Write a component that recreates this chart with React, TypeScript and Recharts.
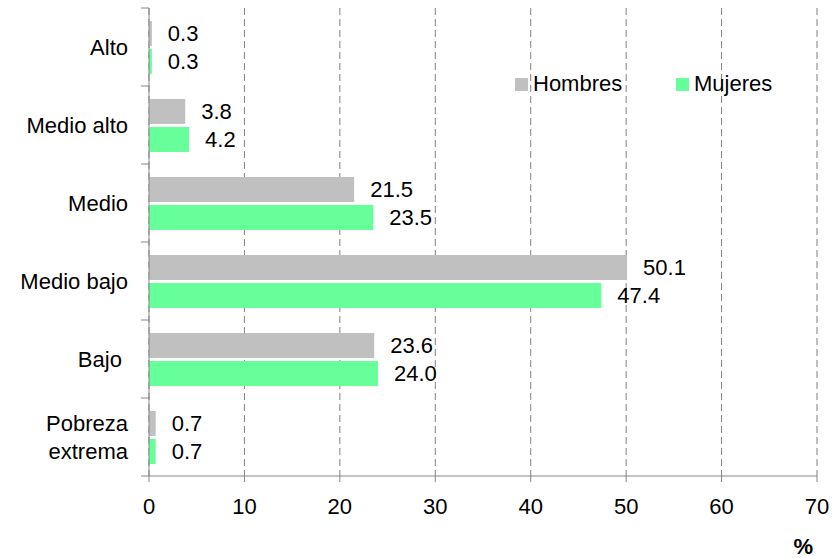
import React from 'react'
import { BarChart, Bar, XAxis, YAxis, CartesianGrid, Legend, LabelList } from 'recharts'

// Distribución por nivel socioeconómico (%)
const categories = ['Alto', 'Medio alto', 'Medio', 'Medio bajo', 'Bajo ', 'Pobreza extrema']
const hombres = [0.3, 3.8, 21.5, 50.1, 23.6, 0.7]
const mujeres = [0.3, 4.2, 23.5, 47.4, 24.0, 0.7]
const xTicks = [0, 10, 20, 30, 40, 50, 60, 70]

const colors = { hombres: '#C0C0C0', mujeres: '#66FF99' }
const font = '"Liberation Sans", Arial, sans-serif'
const axisColor = '#868686'
const FS = 22

const data = categories.map((name, i) => ({ name, hombres: hombres[i], mujeres: mujeres[i] }))

const WIDTH = 839
const HEIGHT = 558
const TOP = 8
const X_AXIS_H = 82
const band = (HEIGHT - TOP - X_AXIS_H) / categories.length

const CategoryTick = ({ x, y, payload, index }: any) => {
  const lines = payload.value === 'Pobreza extrema' ? ['Pobreza', 'extrema'] : [payload.value]
  const lineH = 28
  const startY = y - ((lines.length - 1) * lineH) / 2
  return (
    <g>
      <line x1={x} x2={x + 8} y1={y - band / 2} y2={y - band / 2} stroke={axisColor} />
      {index === categories.length - 1 && (
        <line x1={x} x2={x + 8} y1={y + band / 2} y2={y + band / 2} stroke={axisColor} />
      )}
      <text x={x - 13} y={startY} textAnchor="end" dominantBaseline="central" fontSize={FS} fill="#000" fontFamily={font} style={{ whiteSpace: 'pre' }}>
        {lines.map((l, i) => (
          <tspan key={i} x={x - 13} y={startY + i * lineH}>{l}</tspan>
        ))}
      </text>
    </g>
  )
}

const LegendContent = () => (
  <div style={{ display: 'flex', fontFamily: font, fontSize: FS, color: '#000', lineHeight: '24px' }}>
    {[['Hombres', colors.hombres], ['Mujeres', colors.mujeres]].map(([label, c], i) => (
      <div key={label} style={{ display: 'flex', alignItems: 'center', width: i === 0 ? 161 : 'auto' }}>
        <span style={{ width: 13, height: 13, background: c, display: 'inline-block', marginRight: 5 }} />
        <span>{label}</span>
      </div>
    ))}
  </div>
)

export default function App() {
  return (
    <div style={{ position: 'absolute', left: 0, top: 0, background: '#fff' }}>
      <BarChart
        width={WIDTH}
        height={HEIGHT}
        data={data}
        layout="vertical"
        margin={{ top: TOP, right: 22, bottom: 0, left: 0 }}
        barSize={25}
        barGap={3}
      >
        <CartesianGrid horizontal={false} stroke="#808080" strokeDasharray="7 4" />
        <XAxis
          type="number"
          domain={[0, 70]}
          ticks={xTicks}
          interval={0}
          height={X_AXIS_H}
          stroke={axisColor}
          tickSize={6}
          tickMargin={16}
          tick={{ fill: '#000', fontSize: FS, fontFamily: font }}
          label={{ value: '%', position: 'insideBottomRight', offset: 4, fill: '#000', fontSize: FS, fontWeight: 'bold', fontFamily: font }}
        />
        <YAxis
          type="category"
          dataKey="name"
          width={149}
          stroke={axisColor}
          tickLine={false}
          tickSize={8}
          tickMargin={0}
          interval={0}
          tick={<CategoryTick />}
        />
        <Legend
          layout="horizontal"
          verticalAlign="middle"
          align="center"
          content={<LegendContent />}
          wrapperStyle={{ left: 515, top: 72, width: 'auto', height: 'auto' }}
        />
        <Bar dataKey="hombres" name="Hombres" fill={colors.hombres} isAnimationActive={false}>
          <LabelList dataKey="hombres" position="right" offset={16} fill="#000" fontSize={FS} fontFamily={font} formatter={(v: any) => Number(v).toFixed(1)} />
        </Bar>
        <Bar dataKey="mujeres" name="Mujeres" fill={colors.mujeres} isAnimationActive={false}>
          <LabelList dataKey="mujeres" position="right" offset={16} fill="#000" fontSize={FS} fontFamily={font} formatter={(v: any) => Number(v).toFixed(1)} />
        </Bar>
      </BarChart>
    </div>
  )
}
